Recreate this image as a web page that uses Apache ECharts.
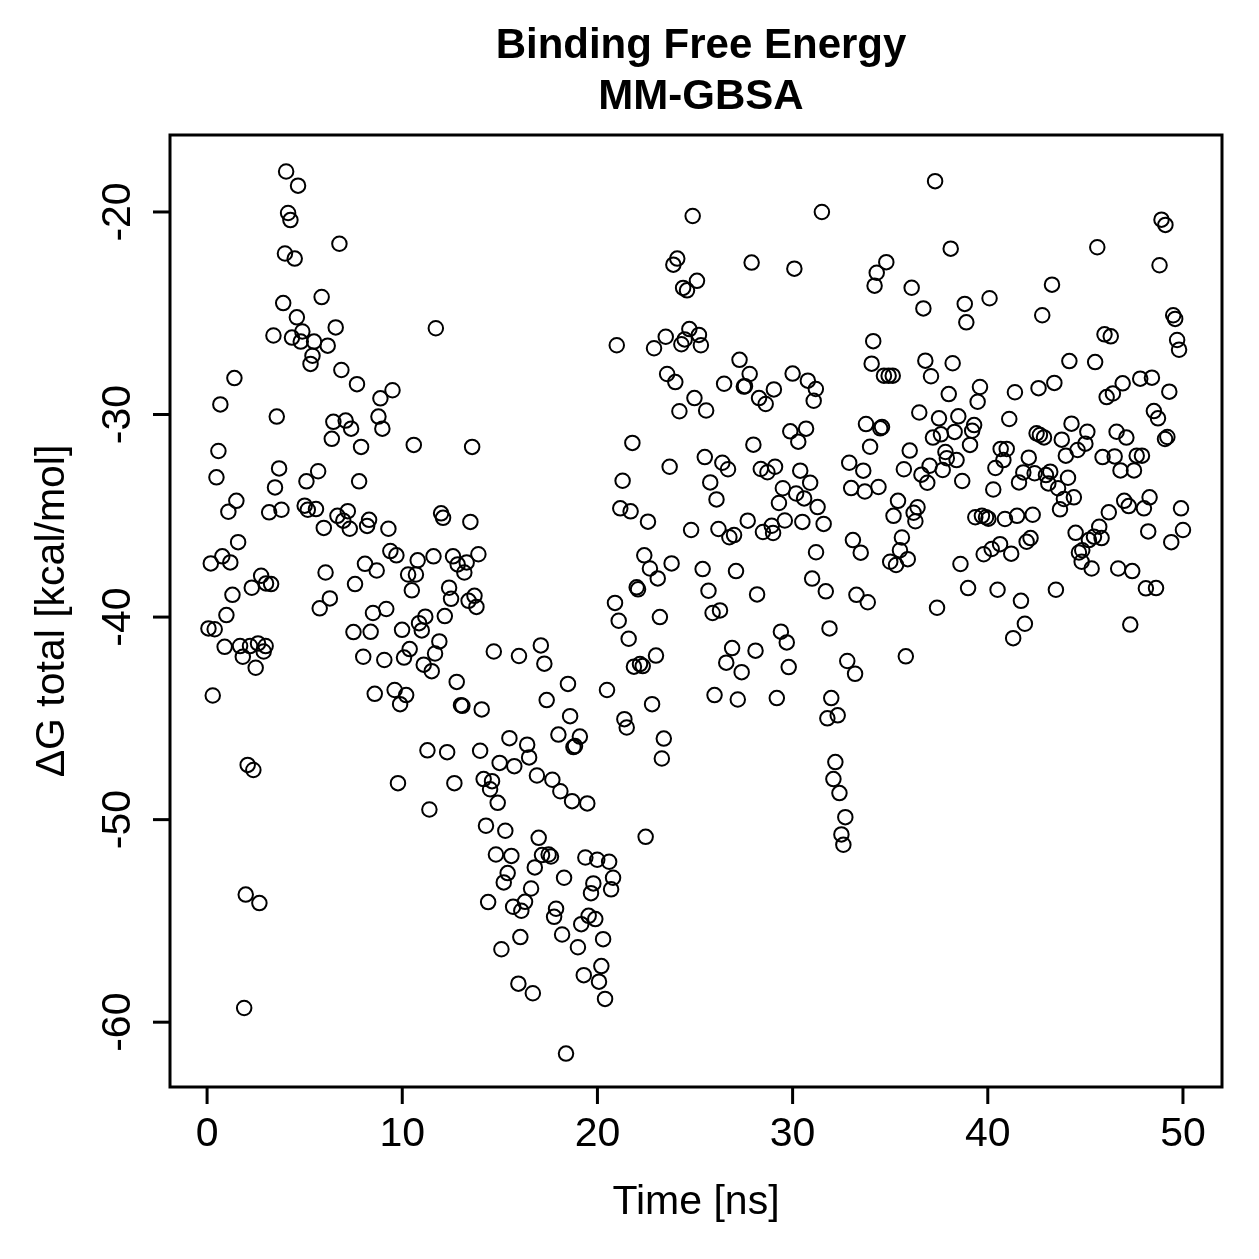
<!DOCTYPE html>
<html>
<head>
<meta charset="utf-8">
<title>Binding Free Energy MM-GBSA</title>
<script src="https://cdn.jsdelivr.net/npm/echarts@6/dist/echarts.min.js"></script>
<style>
  html, body { margin: 0; padding: 0; background: #fff; }
  #chart { width: 1259px; height: 1259px; }
</style>
</head>
<body>
<div id="chart"></div>
<script>
// [time (ns), dG total (kcal/mol)], grouped by region
const earlyHigh = [
  [4.05, -18.0], [4.66, -18.7], [4.15, -20.05], [4.27, -20.4], [6.78, -21.57], [3.99, -22.05],
  [4.49, -22.3], [5.87, -24.2], [3.9, -24.5], [4.6, -25.2], [11.72, -25.74], [6.59, -25.7],
  [3.4, -26.1], [4.35, -26.2], [4.88, -25.9], [4.8, -26.4], [5.48, -26.4], [6.18, -26.6],
  [5.4, -27.1], [5.3, -27.5], [1.4, -28.2], [6.88, -27.8], [7.68, -28.5], [9.5, -28.8],
  [8.88, -29.2], [0.68, -29.5], [3.57, -30.1], [6.47, -30.36], [7.1, -30.3], [7.38, -30.7],
  [8.78, -30.1], [8.98, -30.7], [6.39, -31.2], [7.89, -31.6], [10.59, -31.5], [13.58, -31.6],
  [0.58, -31.8]
];
const earlyMid = [
  [0.48, -33.1], [3.69, -32.66], [3.48, -33.6], [5.09, -33.3], [5.69, -32.8], [7.79, -33.3],
  [1.5, -34.26], [1.09, -34.8], [3.18, -34.83], [3.81, -34.7], [5.0, -34.5], [5.16, -34.7],
  [5.58, -34.67], [6.68, -35.0], [7.21, -34.77], [6.98, -35.24], [7.31, -35.64], [5.98, -35.6],
  [8.3, -35.2], [8.2, -35.5], [9.29, -35.64], [11.99, -34.88], [12.09, -35.1], [13.49, -35.3],
  [1.59, -36.3], [0.78, -37.0], [0.19, -37.35], [1.19, -37.3], [6.07, -37.8], [8.09, -37.37],
  [8.69, -37.7], [9.39, -36.74], [9.7, -36.95], [10.79, -37.2], [11.6, -37.0], [10.3, -37.9],
  [10.7, -37.9], [10.49, -38.68], [12.6, -37.0], [12.84, -37.4], [13.3, -37.3], [13.18, -37.8],
  [13.9, -36.9], [2.77, -37.96], [3.02, -38.34], [3.28, -38.37], [2.29, -38.55], [1.3, -38.9],
  [7.58, -38.37], [5.77, -39.57], [6.29, -39.08], [12.4, -38.55], [12.5, -39.1], [13.4, -39.2],
  [13.7, -38.95], [13.8, -39.5], [0.99, -39.9], [0.07, -40.56], [0.39, -40.6], [0.9, -41.47],
  [1.69, -41.43], [2.2, -41.43], [2.61, -41.3], [3.0, -41.43], [1.83, -41.96], [2.9, -41.7],
  [2.49, -42.5], [8.5, -39.8], [9.18, -39.6], [7.5, -40.74], [8.38, -40.73], [9.99, -40.63],
  [11.18, -39.98], [10.86, -40.3], [11.0, -40.66], [12.18, -39.95], [11.9, -41.2], [11.68, -41.8],
  [10.38, -41.58], [10.09, -42.0], [8.0, -41.96], [9.08, -42.12], [11.1, -42.35], [11.51, -42.67],
  [14.69, -41.7], [15.98, -41.92], [12.79, -43.2], [0.29, -43.87], [8.59, -43.79], [9.61, -43.6],
  [10.2, -43.85], [9.89, -44.3], [13.01, -44.35], [13.08, -44.38], [14.07, -44.56], [15.49, -45.98],
  [11.29, -46.58], [12.3, -46.67], [13.99, -46.6], [14.99, -47.2], [15.74, -47.36], [2.08, -47.3],
  [2.37, -47.55]
];
const earlyLow = [
  [9.78, -48.2], [12.67, -48.2], [14.17, -48.0], [14.6, -48.1], [14.5, -48.5], [14.89, -49.17],
  [11.39, -49.5], [14.29, -50.3], [15.28, -50.55], [14.8, -51.72], [15.59, -51.79], [15.4, -52.64],
  [15.2, -53.1], [1.98, -53.7], [2.68, -54.12], [14.4, -54.07], [15.68, -54.3], [16.1, -54.5],
  [16.05, -55.8], [15.08, -56.4], [15.95, -58.1], [1.9, -59.3]
];
const middleHigh = [
  [24.88, -20.2], [31.5, -20.0], [24.09, -22.3], [23.89, -22.6], [27.9, -22.5], [30.09, -22.8],
  [25.1, -23.4], [24.39, -23.75], [24.59, -23.87], [20.99, -26.58], [22.9, -26.73], [23.5, -26.16],
  [24.71, -25.78], [25.2, -26.07], [25.3, -26.58], [24.47, -26.29], [24.3, -26.53], [27.28, -27.3],
  [27.8, -28.0], [27.56, -28.6], [27.5, -28.62], [26.49, -28.48], [23.57, -28.0], [23.99, -28.4],
  [29.04, -28.76], [28.28, -29.19], [28.62, -29.48], [30.0, -27.98], [30.78, -28.33], [31.19, -28.74],
  [31.08, -29.32], [24.97, -29.19], [24.2, -29.84], [25.57, -29.8], [33.76, -30.47], [29.88, -30.83],
  [30.69, -30.7], [30.29, -31.34], [21.79, -31.4], [27.99, -31.49], [34.2, -23.64], [34.13, -26.38],
  [34.05, -27.49], [33.97, -31.59]
];
const middleMid = [
  [23.7, -32.58], [25.5, -32.1], [26.4, -32.38], [26.69, -32.7], [28.37, -32.69], [28.71, -32.85],
  [29.1, -32.58], [30.39, -32.77], [30.9, -33.37], [32.9, -32.38], [33.62, -32.77], [21.29, -33.27],
  [25.78, -33.35], [26.1, -34.19], [29.5, -33.64], [29.3, -34.37], [30.18, -33.9], [30.59, -34.14],
  [31.28, -34.57], [31.59, -35.4], [33.0, -33.63], [33.7, -33.8], [21.17, -34.63], [21.7, -34.78],
  [22.59, -35.29], [24.8, -35.7], [26.2, -35.65], [26.76, -36.06], [27.0, -35.95], [27.7, -35.24],
  [28.48, -35.8], [28.93, -35.49], [29.0, -35.85], [29.6, -35.23], [30.5, -35.3], [33.09, -36.2],
  [33.49, -36.82], [31.2, -36.8], [22.4, -36.95], [22.69, -37.6], [23.09, -38.09], [23.8, -37.35],
  [25.39, -37.63], [27.1, -37.73], [31.0, -38.1], [31.7, -38.73], [33.27, -38.9], [33.85, -39.27],
  [22.01, -38.53], [22.08, -38.63], [20.9, -39.3], [21.09, -40.18], [25.69, -38.7], [28.18, -38.88],
  [25.9, -39.8], [26.28, -39.67], [23.2, -40.0], [31.89, -40.56], [21.6, -41.07], [29.4, -40.72],
  [29.7, -41.25], [26.9, -41.53], [28.1, -41.66], [17.1, -41.4], [17.28, -42.3], [21.87, -42.45],
  [22.18, -42.32], [22.32, -42.42], [23.0, -41.9], [26.6, -42.25], [27.39, -42.72], [29.8, -42.47],
  [32.8, -42.17], [33.2, -42.8], [18.49, -43.3], [20.49, -43.6], [26.0, -43.85], [27.19, -44.07],
  [29.19, -44.0], [17.4, -44.1], [31.98, -44.0], [31.78, -45.0], [32.31, -44.85], [18.6, -44.89],
  [22.8, -44.3], [21.38, -45.04], [21.5, -45.45], [18.0, -45.8], [19.1, -45.9], [18.85, -46.37],
  [18.77, -46.42], [16.4, -46.3], [16.5, -46.93], [23.4, -46.0], [23.3, -46.98], [32.19, -47.16]
];
const middleLow = [
  [16.9, -47.82], [17.69, -48.03], [18.1, -48.6], [18.7, -49.09], [19.48, -49.2], [22.47, -50.85],
  [32.09, -48.0], [32.4, -48.69], [32.7, -49.88], [32.5, -50.73], [32.6, -51.24], [16.99, -50.9],
  [17.16, -51.75], [17.5, -51.72], [17.62, -51.82], [16.79, -52.36], [19.38, -51.87], [19.99, -51.98],
  [20.6, -52.08], [20.8, -52.87], [20.7, -53.44], [18.29, -52.87], [19.79, -53.15], [19.67, -53.63],
  [16.6, -53.4], [16.29, -54.06], [17.88, -54.4], [17.78, -54.8], [19.55, -54.75], [19.89, -54.91],
  [19.17, -55.16], [18.19, -55.67], [20.29, -55.9], [19.0, -56.3], [20.2, -57.23], [20.08, -58.0],
  [20.39, -58.85], [19.3, -57.68], [16.69, -58.57], [18.39, -61.55]
];
const lateHigh = [
  [37.3, -18.48], [48.9, -20.38], [49.1, -20.64], [38.1, -21.81], [45.61, -21.74], [48.8, -22.63],
  [34.8, -22.48], [34.31, -23.0], [43.29, -23.59], [36.1, -23.74], [36.7, -24.76], [38.82, -24.54],
  [38.9, -25.45], [40.09, -24.26], [42.79, -25.1], [49.5, -25.1], [49.6, -25.28], [45.98, -26.04],
  [46.3, -26.14], [49.7, -26.32], [49.8, -26.8], [36.8, -27.34], [38.2, -27.47], [44.18, -27.36],
  [45.5, -27.41], [37.09, -28.11], [34.68, -28.08], [34.92, -28.08], [35.13, -28.08], [47.81, -28.23],
  [48.41, -28.18], [46.91, -28.46], [46.41, -28.96], [46.09, -29.14], [43.41, -28.44], [42.6, -28.7],
  [49.3, -28.87], [39.6, -28.64], [39.48, -29.37], [38.0, -28.99], [41.39, -28.9], [36.49, -29.9],
  [37.5, -30.19], [38.49, -30.09], [48.51, -29.83], [48.72, -30.19], [41.1, -30.22], [44.29, -30.45],
  [45.1, -30.85], [45.0, -31.44], [44.6, -31.75], [46.6, -30.85], [47.1, -31.14], [49.08, -31.21],
  [49.2, -31.11], [42.5, -30.93], [42.67, -31.01], [42.88, -31.13], [43.79, -31.24], [34.58, -30.62],
  [34.49, -30.68], [39.3, -30.52], [39.2, -30.8], [38.3, -30.86], [37.6, -30.98], [37.19, -31.14],
  [39.09, -31.5], [36.0, -31.78], [37.83, -31.85], [40.66, -31.7], [40.97, -31.7]
];
const lateMid = [
  [37.9, -32.16], [38.4, -32.25], [42.1, -32.13], [44.0, -32.03], [45.88, -32.1], [46.5, -32.07],
  [47.63, -32.03], [47.9, -32.03], [35.7, -32.7], [36.6, -32.97], [37.02, -32.53], [36.9, -33.37],
  [37.69, -32.74], [38.69, -33.28], [40.39, -32.64], [40.8, -32.25], [41.82, -32.86], [42.4, -32.9],
  [41.6, -33.35], [42.98, -32.99], [43.2, -32.82], [43.1, -33.4], [44.11, -33.12], [43.6, -33.64],
  [43.9, -34.17], [44.41, -34.09], [46.8, -32.76], [47.49, -32.76], [40.28, -33.7], [34.4, -33.58],
  [35.4, -34.26], [35.17, -35.0], [36.4, -34.58], [36.2, -34.85], [36.29, -35.27], [43.7, -34.68],
  [46.99, -34.26], [47.22, -34.52], [48.29, -34.09], [48.0, -34.63], [49.9, -34.63], [46.2, -34.83],
  [39.36, -35.07], [39.7, -35.0], [39.91, -35.07], [40.03, -35.14], [40.88, -35.16], [41.5, -35.0],
  [42.3, -34.95], [35.6, -36.07], [35.5, -36.7], [35.9, -37.14], [35.0, -37.27], [35.3, -37.43],
  [38.6, -37.38], [48.22, -35.77], [50.0, -35.7], [49.4, -36.3], [44.5, -35.84], [45.71, -35.54],
  [45.83, -36.1], [45.44, -36.03], [45.18, -36.2], [42.19, -36.1], [41.99, -36.28], [40.63, -36.4],
  [40.2, -36.64], [39.79, -36.9], [41.2, -36.87], [44.84, -36.7], [44.67, -36.81], [44.81, -37.27],
  [45.32, -37.6], [46.68, -37.6], [47.4, -37.73], [38.99, -38.57], [40.5, -38.65], [43.49, -38.65],
  [48.1, -38.58], [48.62, -38.57], [41.7, -39.2], [37.4, -39.54], [41.9, -40.33], [41.3, -41.04],
  [47.3, -40.37], [35.8, -41.94]
];

const xTicks = [0, 10, 20, 30, 40, 50];
const yTicks = [-60, -50, -40, -30, -20];

const allPoints = [].concat(earlyHigh, earlyMid, earlyLow, middleHigh, middleMid, middleLow, lateHigh, lateMid);

const fontFamily = "'Liberation Sans', Arial, Helvetica, sans-serif";

// axis extents (R pads the data range by 4%)
const xMin = -1.9, xMax = 52;
const yMin = -63.2, yMax = -16.2;
const tickPx = 17;

const chart = echarts.init(document.getElementById('chart'));

const option = {
  animation: false,
  backgroundColor: '#ffffff',
  title: {
    text: 'Binding Free Energy\nMM-GBSA',
    left: 696,
    top: 16,
    textAlign: 'center',
    textStyle: {
      fontFamily: fontFamily,
      fontSize: 42,
      fontWeight: 'bold',
      color: '#000',
      lineHeight: 51,
    },
  },
  grid: {
    left: 170,
    top: 135,
    width: 1052,
    height: 952,
    show: true,
    borderColor: '#000',
    borderWidth: 3,
    backgroundColor: 'transparent',
  },
  xAxis: {
    type: 'value',
    position: 'bottom',
    min: xMin,
    max: xMax,
    name: 'Time [ns]',
    nameLocation: 'middle',
    nameGap: 95,
    nameTextStyle: { fontFamily: fontFamily, fontSize: 41, color: '#000' },
    axisLine: { show: false, onZero: false },
    axisTick: { show: false },
    axisLabel: {
      customValues: xTicks,
      margin: 27,
      fontFamily: fontFamily,
      fontSize: 41,
      color: '#000',
    },
    splitLine: { show: false },
  },
  yAxis: {
    type: 'value',
    position: 'left',
    min: yMin,
    max: yMax,
    name: 'ΔG total [kcal/mol]',
    nameLocation: 'middle',
    nameRotate: 90,
    nameGap: 97,
    nameTextStyle: { fontFamily: fontFamily, fontSize: 41, color: '#000' },
    axisLine: { show: false, onZero: false },
    axisTick: { show: false },
    axisLabel: {
      customValues: yTicks,
      rotate: 90,
      margin: 31,
      fontFamily: fontFamily,
      fontSize: 41,
      color: '#000',
    },
    splitLine: { show: false },
  },
  series: [
    {
      type: 'scatter',
      data: allPoints,
      symbol: 'circle',
      symbolSize: 14.5,
      itemStyle: {
        color: 'rgba(0,0,0,0)',
        borderColor: '#000',
        borderWidth: 2,
        opacity: 1,
      },
      emphasis: { disabled: true },
    },
  ],
};
chart.setOption(option);

// outward tick marks (R style), placed through the chart's own scales
const toPx = (pt) => chart.convertToPixel({ gridIndex: 0 }, pt);
const tickGraphics = [];
xTicks.forEach((t) => {
  const p = toPx([t, yMin]);
  tickGraphics.push({
    type: 'line',
    silent: true,
    shape: { x1: p[0], y1: p[1], x2: p[0], y2: p[1] + tickPx },
    style: { stroke: '#000', lineWidth: 3 },
  });
});
yTicks.forEach((v) => {
  const p = toPx([xMin, v]);
  tickGraphics.push({
    type: 'line',
    silent: true,
    shape: { x1: p[0], y1: p[1], x2: p[0] - tickPx, y2: p[1] },
    style: { stroke: '#000', lineWidth: 3 },
  });
});
chart.setOption({ graphic: tickGraphics });
</script>
</body>
</html>
